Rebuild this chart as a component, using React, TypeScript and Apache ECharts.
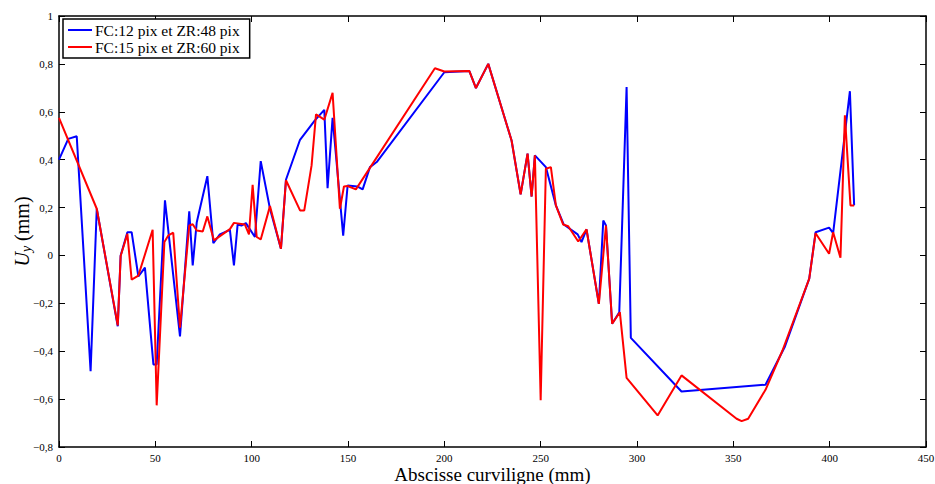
import React, { useEffect, useRef } from "react";
import * as echarts from "echarts";

const blueX = [0, 4.8, 9.2, 16.4, 19.6, 30.5, 32, 35.5, 37.7, 41.2, 44.6, 49, 50.7, 55, 62.8, 67.6, 69.4, 71.5, 77, 80.1, 83.5, 88.7, 90.8, 92.7, 94.7, 97, 101.7, 104.7, 109.5, 115.2, 117.8, 125.1, 132.8, 137.7, 139.4, 142, 147.5, 149.8, 154.8, 157.6, 161.4, 164.9, 200, 213, 216.4, 222.8, 234.9, 239.6, 243.2, 245.3, 247, 252.7, 257.9, 262, 269.2, 271.2, 273.8, 280.2, 282.5, 283.9, 287.1, 290.8, 294.6, 296.8, 323.1, 366.7, 376.8, 389.4, 392.7, 399.7, 401.8, 410.5, 412.7];
const blueY = [0.4, 0.487, 0.498, -0.483, 0.195, -0.296, 0, 0.097, 0.097, -0.088, -0.051, -0.455, -0.455, 0.23, -0.338, 0.184, -0.042, 0.139, 0.331, 0.051, 0.088, 0.107, -0.042, 0.129, 0.125, 0.135, 0.077, 0.394, 0.195, 0.028, 0.316, 0.483, 0.564, 0.608, 0.281, 0.575, 0.083, 0.292, 0.288, 0.276, 0.369, 0.39, 0.765, 0.77, 0.699, 0.8, 0.48, 0.255, 0.425, 0.246, 0.418, 0.369, 0.209, 0.129, 0.088, 0.056, 0.109, -0.202, 0.146, 0.125, -0.285, -0.237, 0.703, -0.344, -0.568, -0.54, -0.38, -0.097, 0.097, 0.116, 0.093, 0.686, 0.209];

const redX = [0, 19.6, 30.5, 32, 35.5, 37.7, 41.2, 48.6, 50.7, 54.7, 56.8, 59.3, 62.8, 67.6, 69.4, 71.5, 74.6, 77, 80.4, 88.7, 90.8, 96.5, 98.6, 100.5, 102.6, 104.7, 109.5, 115.2, 117.8, 125.1, 127.3, 131.1, 133.4, 137.7, 142, 145.8, 147.9, 149.8, 154.1, 195.1, 200, 213, 216.4, 222.8, 234.9, 239.6, 243.2, 245.3, 247, 250, 252.7, 255.3, 257.9, 261.7, 264.3, 269.5, 273.8, 280.2, 283.9, 287.1, 291.1, 294.6, 310.7, 323.1, 351.7, 354.3, 357.7, 366.7, 375.5, 389.4, 392.7, 399.7, 401.8, 405.6, 407.9, 410.8, 412.7];
const redY = [0.575, 0.195, -0.292, -0.002, 0.09, -0.101, -0.084, 0.107, -0.626, 0.056, 0.084, 0.095, -0.302, 0.125, 0.13, 0.104, 0.1, 0.163, 0.063, 0.11, 0.136, 0.129, 0.088, 0.295, 0.077, 0.067, 0.206, 0.028, 0.314, 0.188, 0.188, 0.376, 0.589, 0.567, 0.679, 0.195, 0.288, 0.29, 0.276, 0.782, 0.768, 0.77, 0.699, 0.8, 0.48, 0.255, 0.425, 0.246, 0.418, -0.605, 0.362, 0.369, 0.209, 0.129, 0.122, 0.058, 0.109, -0.202, 0.125, -0.285, -0.237, -0.511, -0.668, -0.501, -0.682, -0.692, -0.682, -0.561, -0.397, -0.097, 0.093, 0.007, 0.097, -0.01, 0.585, 0.209, 0.209];

const seriesNames = ["FC:12 pix et ZR:48 pix", "FC:15 pix et ZR:60 pix"];
const xTitle = "Abscisse curviligne (mm)";

const FONT = "'Liberation Serif', 'DejaVu Serif', serif";

function fmt(v: number): string {
  if (Math.abs(v) < 1e-9) return "0";
  const s = Number.isInteger(Math.round(v * 1000) / 1000) ? String(Math.round(v)) : v.toFixed(1);
  return s.replace(".", ",").replace("-", "\u2212");
}

export default function App() {
  const ref = useRef<HTMLDivElement>(null);
  useEffect(() => {
    if (!ref.current) return;
    const chart = echarts.init(ref.current, null, { renderer: "svg" });
    const blue = blueX.map((x, i) => [x, blueY[i]]);
    const red = redX.map((x, i) => [x, redY[i]]);
    const axisCommon = {
      type: "value" as const,
      axisLine: { show: true, onZero: false, lineStyle: { color: "#000", width: 1.5 } },
      axisTick: { show: true, inside: true, length: 6, lineStyle: { color: "#000", width: 1 } },
      splitLine: { show: false },
    };
    chart.setOption({
      animation: false,
      backgroundColor: "#fff",
      grid: { left: 59, right: 9, top: 16, bottom: 37, containLabel: false, outerBoundsMode: "none" },
      legend: {
        left: 63,
        top: 19,
        orient: "vertical",
        data: seriesNames,
        icon: "rect",
        itemWidth: 24,
        itemHeight: 2,
        itemGap: 1,
        padding: [3, 10, 3, 5],
        borderColor: "#000",
        borderWidth: 1.5,
        backgroundColor: "#fff",
        textStyle: { fontFamily: FONT, fontSize: 15.5, color: "#000", padding: [0, 0, 0, -2] },
      },
      xAxis: [
        {
          ...axisCommon,
          min: 0,
          max: 450,
          interval: 50,
          name: xTitle,
          nameLocation: "middle",
          nameGap: 18,
          nameMoveOverlap: false,
          nameTextStyle: { fontFamily: FONT, fontSize: 19, lineHeight: 19, color: "#000", verticalAlign: "top" },
          axisLabel: { fontFamily: FONT, fontSize: 11, color: "#000", margin: 5, formatter: (v: number) => fmt(v) },
        },
        {
          ...axisCommon,
          position: "top",
          min: 0,
          max: 450,
          interval: 50,
          axisLabel: { show: false },
        },
      ],
      yAxis: [
        {
          ...axisCommon,
          min: -0.8,
          max: 1,
          interval: 0.2,
          name: "{i|U}{s|y} (mm)",
          nameLocation: "middle",
          nameGap: 26,
          nameMoveOverlap: false,
          nameRotate: 90,
          nameTextStyle: {
            fontFamily: FONT,
            fontSize: 20,
            color: "#000",
            rich: {
              i: { fontFamily: FONT, fontSize: 20, fontStyle: "italic", color: "#000" },
              s: { fontFamily: FONT, fontSize: 14, fontStyle: "italic", color: "#000", verticalAlign: "bottom", padding: [8, 0, 0, 0] },
            },
          },
          axisLabel: { fontFamily: FONT, fontSize: 11, color: "#000", margin: 6, formatter: (v: number) => fmt(v) },
        },
        {
          ...axisCommon,
          position: "right",
          min: -0.8,
          max: 1,
          interval: 0.2,
          axisLabel: { show: false },
        },
      ],
      series: [
        {
          name: seriesNames[0],
          type: "line",
          data: blue,
          showSymbol: false,
          symbol: "none",
          color: "#0000ff",
          lineStyle: { color: "#0000ff", width: 2 },
        },
        {
          name: seriesNames[1],
          type: "line",
          data: red,
          showSymbol: false,
          symbol: "none",
          color: "#ff0000",
          lineStyle: { color: "#ff0000", width: 2 },
        },
      ],
    });
    return () => chart.dispose();
  }, []);
  return <div ref={ref} style={{ width: 935, height: 484, position: "absolute", left: 0, top: 0 }} />;
}
